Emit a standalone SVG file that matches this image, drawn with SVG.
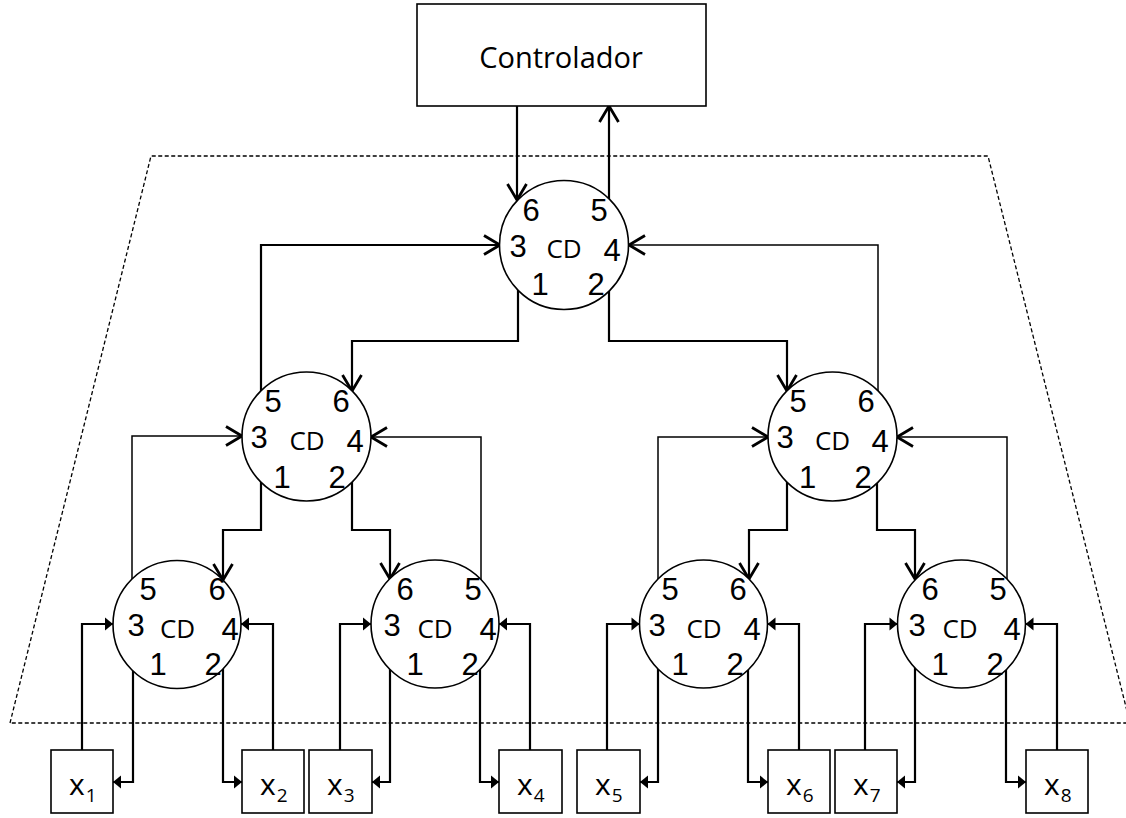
<svg xmlns="http://www.w3.org/2000/svg" width="1126" height="818" viewBox="0 0 1126 818">
<style>
.bg{fill:#fff}
.box{fill:#fff;stroke:#000;stroke-width:1.6}
.cd{fill:#fff;stroke:#000;stroke-width:1.6}
.num{font-family:"Liberation Sans",Arial,sans-serif;font-size:31px;fill:#000;text-anchor:middle}
.lbl{font-family:"Open Sans","Liberation Sans",sans-serif;font-size:26px;fill:#000;text-anchor:middle}
.ctl{font-family:"Open Sans","Liberation Sans",sans-serif;font-size:29px;fill:#000;text-anchor:middle}
.xv{font-family:"Open Sans","Liberation Sans",sans-serif;font-size:30px;fill:#000}
.xs{font-family:"Open Sans","Liberation Sans",sans-serif;font-size:19px;fill:#000}
.thick{fill:none;stroke:#000;stroke-width:2.2}
.thin{fill:none;stroke:#000;stroke-width:1.5}
.oa{marker-end:url(#open)}
.fa{marker-end:url(#filled)}
.dash{fill:none;stroke:#000;stroke-width:1.3;stroke-dasharray:4 2.5}
</style>
<defs>
<marker id="open" markerWidth="22" markerHeight="24" refX="18" refY="11" orient="auto" markerUnits="userSpaceOnUse" overflow="visible">
<path d="M2,1.5 L18,11 L2,20.5" fill="none" stroke="#000" stroke-width="2.8"/>
</marker>
<marker id="filled" markerWidth="10" markerHeight="14" refX="8" refY="6.5" orient="auto" markerUnits="userSpaceOnUse" overflow="visible">
<path d="M0,0 L8,6.5 L0,13 Z" fill="#000"/>
</marker>
</defs>
<rect class="bg" x="0" y="0" width="1126" height="818"/>

<g id="boundary">
<polygon class="dash" points="10,723 151,156 988,156 1130,723"/>
</g>

<g id="connectors">
<path class="thick oa" d="M517,106 V200"/>
<path class="thick oa" d="M609,215 V106"/>
<path class="thick oa" d="M261,400 V245 H500"/>
<path class="thin oa" d="M878,400 V245 H629"/>
<path class="thick oa" d="M518,280 V341 H352 V391"/>
<path class="thick oa" d="M609,280 V341 H787 V391"/>
<path class="thin oa" d="M132,590 V436 H242"/>
<path class="thin oa" d="M481,590 V437 H371"/>
<path class="thick oa" d="M261,480 V530 H223 V580"/>
<path class="thick oa" d="M352,480 V530 H390 V579"/>
<path class="thin oa" d="M658,590 V437 H768"/>
<path class="thin oa" d="M1007,590 V437 H897"/>
<path class="thick oa" d="M787,480 V530 H749 V579"/>
<path class="thick oa" d="M877,480 V530 H915 V579"/>
<path class="thick fa" d="M82,750 V624 H113"/>
<path class="thick fa" d="M273,750 V624 H241"/>
<path class="thick fa" d="M133,660 V782 H113"/>
<path class="thick fa" d="M223,660 V782 H242"/>
<path class="thick fa" d="M340,750 V624 H371"/>
<path class="thick fa" d="M530,750 V624 H499"/>
<path class="thick fa" d="M390,660 V782 H372"/>
<path class="thick fa" d="M480,660 V782 H499"/>
<path class="thick fa" d="M607,750 V624 H639.5"/>
<path class="thick fa" d="M799,750 V624 H767.5"/>
<path class="thick fa" d="M658,660 V782 H640"/>
<path class="thick fa" d="M748,660 V782 H768"/>
<path class="thick fa" d="M865,750 V624 H897.5"/>
<path class="thick fa" d="M1057,750 V624 H1025.5"/>
<path class="thick fa" d="M915,660 V782 H897"/>
<path class="thick fa" d="M1006,660 V782 H1026"/>
</g>

<g id="controlador">
<rect class="box" x="417" y="4" width="289" height="102"/>
<text class="ctl" x="561" y="68">Controlador</text>
</g>

<g id="cd-top">
<circle class="cd" cx="564" cy="245" r="64.5"/>
<text class="num" x="531" y="221">6</text>
<text class="num" x="599" y="221">5</text>
<text class="num" x="518" y="257">3</text>
<text class="lbl" x="564" y="258">CD</text>
<text class="num" x="612" y="261">4</text>
<text class="num" x="540" y="295">1</text>
<text class="num" x="596" y="295">2</text>
</g>

<g id="cd-mid-left">
<circle class="cd" cx="306.5" cy="436.5" r="64.5"/>
<text class="num" x="273" y="412">5</text>
<text class="num" x="341" y="412">6</text>
<text class="num" x="259" y="448">3</text>
<text class="lbl" x="307" y="450">CD</text>
<text class="num" x="355" y="452">4</text>
<text class="num" x="282" y="488">1</text>
<text class="num" x="337" y="488">2</text>
</g>

<g id="cd-mid-right">
<circle class="cd" cx="832.5" cy="436.5" r="64.5"/>
<text class="num" x="798" y="412">5</text>
<text class="num" x="866" y="412">6</text>
<text class="num" x="785" y="448">3</text>
<text class="lbl" x="832.5" y="450">CD</text>
<text class="num" x="880" y="452">4</text>
<text class="num" x="807.5" y="488">1</text>
<text class="num" x="863" y="488">2</text>
</g>

<g id="cd-b1">
<circle class="cd" cx="177" cy="624.5" r="64"/>
<text class="num" x="148" y="600">5</text>
<text class="num" x="217" y="600">6</text>
<text class="num" x="136" y="636">3</text>
<text class="lbl" x="177.5" y="638">CD</text>
<text class="num" x="230" y="640">4</text>
<text class="num" x="158" y="675">1</text>
<text class="num" x="213" y="675">2</text>
</g>

<g id="cd-b2">
<circle class="cd" cx="435" cy="624" r="64"/>
<text class="num" x="405" y="600">6</text>
<text class="num" x="473" y="600">5</text>
<text class="num" x="392" y="636">3</text>
<text class="lbl" x="435" y="638">CD</text>
<text class="num" x="488" y="640">4</text>
<text class="num" x="415" y="675">1</text>
<text class="num" x="470" y="675">2</text>
</g>

<g id="cd-b3">
<circle class="cd" cx="703.5" cy="624" r="64"/>
<text class="num" x="670" y="600">5</text>
<text class="num" x="738" y="600">6</text>
<text class="num" x="657" y="636">3</text>
<text class="lbl" x="704" y="638">CD</text>
<text class="num" x="752" y="640">4</text>
<text class="num" x="680" y="675">1</text>
<text class="num" x="735" y="675">2</text>
</g>

<g id="cd-b4">
<circle class="cd" cx="961.5" cy="624" r="64"/>
<text class="num" x="930" y="600">6</text>
<text class="num" x="998" y="600">5</text>
<text class="num" x="917" y="636">3</text>
<text class="lbl" x="960" y="638">CD</text>
<text class="num" x="1012" y="640">4</text>
<text class="num" x="940" y="675">1</text>
<text class="num" x="995" y="675">2</text>
</g>

<g id="x1"><rect class="box" x="51" y="750" width="62" height="63"/><text x="69" y="795"><tspan class="xv">x</tspan><tspan class="xs" dx="1" dy="7">1</tspan></text></g>
<g id="x2"><rect class="box" x="242" y="750" width="62" height="63"/><text x="260" y="795"><tspan class="xv">x</tspan><tspan class="xs" dx="1" dy="7">2</tspan></text></g>
<g id="x3"><rect class="box" x="309" y="750" width="63" height="63"/><text x="327" y="795"><tspan class="xv">x</tspan><tspan class="xs" dx="1" dy="7">3</tspan></text></g>
<g id="x4"><rect class="box" x="499" y="750" width="63" height="63"/><text x="517" y="795"><tspan class="xv">x</tspan><tspan class="xs" dx="1" dy="7">4</tspan></text></g>
<g id="x5"><rect class="box" x="577" y="750" width="63" height="63"/><text x="595" y="795"><tspan class="xv">x</tspan><tspan class="xs" dx="1" dy="7">5</tspan></text></g>
<g id="x6"><rect class="box" x="768" y="750" width="62" height="63"/><text x="786" y="795"><tspan class="xv">x</tspan><tspan class="xs" dx="1" dy="7">6</tspan></text></g>
<g id="x7"><rect class="box" x="835" y="750" width="62" height="63"/><text x="853" y="795"><tspan class="xv">x</tspan><tspan class="xs" dx="1" dy="7">7</tspan></text></g>
<g id="x8"><rect class="box" x="1026" y="750" width="62" height="63"/><text x="1044" y="795"><tspan class="xv">x</tspan><tspan class="xs" dx="1" dy="7">8</tspan></text></g>
</svg>
